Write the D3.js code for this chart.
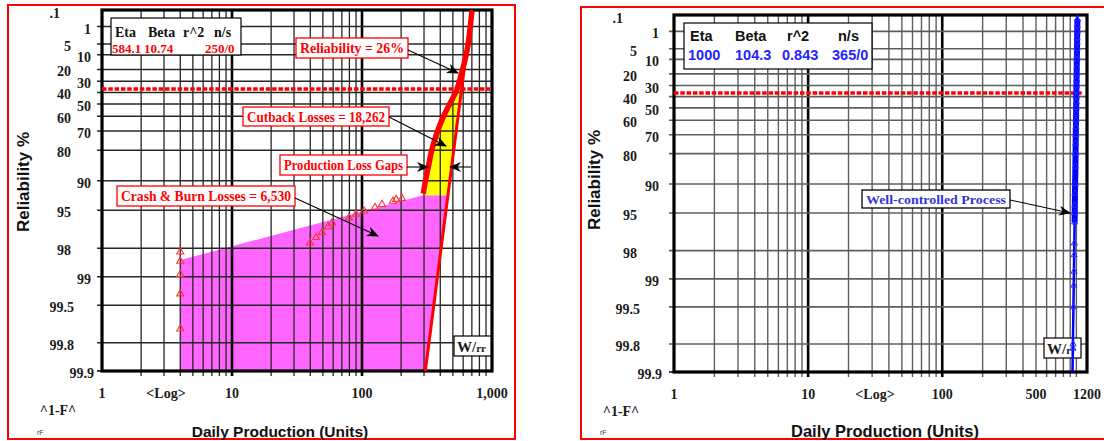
<!DOCTYPE html>
<html><head><meta charset="utf-8">
<script src="https://cdn.jsdelivr.net/npm/d3@7"></script>
<style>body{margin:0;background:#fff}svg{display:block}</style>
</head><body><svg id="c" width="1104" height="441"></svg>
<script>
// ---------------- DATA ----------------
const yTickValues = [0.1, 1, 5, 10, 20, 30, 40, 50, 60, 70, 80, 90, 95, 98, 99, 99.5, 99.8, 99.9];
const yTickLabels = [".1", "1", "5", "10", "20", "30", "40", "50", "60", "70", "80", "90", "95", "98", "99", "99.5", "99.8", "99.9"];
const leftXTickValues = [1, 10, 100, 1000];
const leftXTickLabels = ["1", "10", "100", "1,000"];
const rightXTickValues = [1, 10, 100, 500, 1200];
const rightXTickLabels = ["1", "10", "100", "500", "1200"];
const legendHeaders = ["Eta", "Beta", "r^2", "n/s"];
const leftLegendValues = ["584.1", "10.74", "", "250/0"];
const rightLegendValues = ["1000", "104.3", "0.843", "365/0"];
const etaReliability = 36.79; // reliability at x = eta (dashed line)

// Left chart: [daily production, reliability %]
const leftFitLine = [[307, 99.9], [699, 0.1]];
const leftProductionCurve = [[296, 92.6], [305, 90.6], [324, 86.2], [344, 80.0], [376, 71.4], [422, 60.3],
  [475, 49.6], [535, 37.8], [578, 24.5], [620, 13.1], [657, 4.7], [698, 0.17], [702, 0.12]];
const leftCrashBurnPoints = [[4, 98.17], [4, 98.54], [4, 98.94], [4, 99.34], [4, 99.72],
  [39.8, 97.72], [44.3, 97.40], [49.2, 97.07], [54.7, 96.65], [58.8, 96.31], [79.4, 95.84],
  [89.9, 95.45], [103.6, 95.08], [125.9, 94.66], [142.5, 94.26], [173, 93.80], [183, 93.55], [203, 93.39]];
const leftCrashBurnArea = [[4, 99.9], [4, 98.5], [294, 92.85], [458, 92.85], [307, 99.9]];
const leftCutbackArea = [[296, 92.85], [305, 90.6], [324, 86.2], [344, 80.0], [376, 71.4], [422, 60.3],
  [475, 49.6], [535, 37.8], [583, 37.8], [458, 92.85]];

// Right chart
const rightFitLine = [[936, 99.9], [1019, 0.1]];
const rightDataPoints = [[1018, 0.2], [1016, 0.5], [1015, 1], [1013, 2], [1012, 3], [1011, 5], [1009, 8],
  [1008, 10], [1006, 15], [1005, 20], [1003, 25], [1002, 30], [1000, 35], [999, 40], [998, 45], [996, 50],
  [995, 55], [994, 60], [992, 65], [990, 70], [988, 75], [986, 80], [983, 85], [979, 90], [976, 92],
  [974, 94], [972, 95], [970, 96], [966, 97.6], [963, 98.2], [960, 98.8], [957, 99.15], [952, 99.5],
  [944, 99.8], [943, 99.82]];

// ---------------- DRAWING ----------------
const svg = d3.select("#c");
const SERIF = "'Liberation Serif','Times New Roman',serif";
const SANS = "'Liberation Sans',Arial,sans-serif";

const defs = svg.append("defs");
defs.append("marker").attr("id", "ah").attr("viewBox", "0 0 12 10").attr("refX", 11).attr("refY", 5)
  .attr("markerWidth", 12).attr("markerHeight", 10).attr("markerUnits", "userSpaceOnUse").attr("orient", "auto")
  .append("path").attr("d", "M0,0 L12,5 L0,10 L3.5,5 Z").attr("fill", "#000");

function panel(cfg) {
  const g = svg.append("g");
  g.append("rect").attr("x", cfg.frame[0]).attr("y", cfg.frame[1]).attr("width", cfg.frame[2]).attr("height", cfg.frame[3])
    .attr("fill", "#fff").attr("stroke", "#f00").attr("stroke-width", 2);

  const x = d3.scaleLog().domain(cfg.xDomain).range([cfg.left, cfg.right]);
  const T = R => Math.log(-Math.log(R / 100));
  const yl = d3.scaleLinear().domain([T(0.1), T(99.9)]).range([cfg.top, cfg.bottom]);
  const y = R => yl(T(R));
  const P = d => [x(d[0]), y(d[1])];

  const under = g.append("g");
  const grid = g.append("g");
  const over = g.append("g");

  const vx = [];
  for (let k = 0; k < 4; k++) for (let m = 1; m < 10; m++) {
    const v = m * Math.pow(10, k);
    if (v > cfg.xDomain[0] && v < cfg.xDomain[1]) vx.push(v);
  }
  grid.selectAll(".vg").data(vx).join("line")
    .attr("x1", d => x(d)).attr("x2", d => x(d)).attr("y1", cfg.top).attr("y2", cfg.bottom + 5)
    .attr("stroke", d => (d === 10 || d === 100) ? "#000" : cfg.gridColor)
    .attr("stroke-width", d => (d === 10 || d === 100) ? 2.6 : cfg.gridWidth);
  grid.selectAll(".hg").data(yTickValues.slice(1, -1)).join("line")
    .attr("x1", cfg.left - 5).attr("x2", cfg.right).attr("y1", d => y(d)).attr("y2", d => y(d))
    .attr("stroke", cfg.gridColor).attr("stroke-width", cfg.gridWidth + 0.2);
  grid.append("line").attr("x1", cfg.left - 5).attr("x2", cfg.left).attr("y1", cfg.bottom).attr("y2", cfg.bottom)
    .attr("stroke", "#000").attr("stroke-width", 1.5);
  grid.append("rect").attr("x", cfg.left).attr("y", cfg.top).attr("width", cfg.right - cfg.left).attr("height", cfg.bottom - cfg.top)
    .attr("fill", "none").attr("stroke", "#000").attr("stroke-width", 3.2);

  const colA = new Set(["5", "20", "40", "60", "80", "95", "98"]);
  const colW = new Set(["99.5", "99.8"]);
  g.selectAll(".yl").data(yTickValues).join("text")
    .attr("x", (d, i) => {
      const l = yTickLabels[i];
      if (l === ".1") return cfg.left + cfg.yColDot;
      if (l === "99.9") return cfg.left + cfg.yColB + 3;
      if (colW.has(l)) return cfg.left + cfg.yColA + 3;
      return cfg.left + (colA.has(l) ? cfg.yColA : cfg.yColB);
    })
    .attr("y", (d, i) => yTickLabels[i] === ".1" ? cfg.top + 8 : y(d) + 7)
    .attr("text-anchor", "end").attr("font-family", SERIF).attr("font-weight", "bold").attr("font-size", 14)
    .attr("fill", "#1a1a1a").text((d, i) => yTickLabels[i]);

  g.selectAll(".xl").data(cfg.xTicks).join("text")
    .attr("x", d => x(d)).attr("y", cfg.bottom + 27).attr("text-anchor", "middle")
    .attr("font-family", SERIF).attr("font-weight", "bold").attr("font-size", 14).attr("fill", "#1a1a1a")
    .text((d, i) => cfg.xTickLabels[i]);
  g.append("text").attr("x", cfg.logX).attr("y", cfg.bottom + 27).attr("text-anchor", "middle")
    .attr("font-family", SERIF).attr("font-weight", "bold").attr("font-size", 14).attr("fill", "#1a1a1a").text("<Log>");
  g.append("text").attr("x", cfg.fX).attr("y", cfg.bottom + 44).attr("text-anchor", "middle")
    .attr("font-family", SERIF).attr("font-weight", "bold").attr("font-size", 14).attr("fill", "#1a1a1a").text("^1-F^");
  g.append("text").attr("x", cfg.fX - 21).attr("y", 435).attr("font-family", SANS).attr("font-size", 7)
    .attr("fill", "#333").text("rF");

  g.append("text").attr("x", cfg.xTitleX).attr("y", 437).attr("text-anchor", "middle")
    .attr("font-family", SANS).attr("font-weight", "bold").attr("font-size", cfg.xTitleSize).attr("fill", "#111")
    .text("Daily Production (Units)");
  g.append("text").attr("transform", `translate(${cfg.yTitleX},${cfg.yTitleY}) rotate(-90)`).attr("text-anchor", "middle")
    .attr("font-family", SANS).attr("font-weight", "bold").attr("font-size", 17).attr("fill", "#111")
    .text("Reliability %");

  const lg = over.append("g");
  lg.append("rect").attr("x", cfg.legend.box[0]).attr("y", cfg.legend.box[1]).attr("width", cfg.legend.box[2]).attr("height", cfg.legend.box[3])
    .attr("fill", "#fff").attr("stroke", "#000").attr("stroke-width", 1.2);
  lg.selectAll(".lh").data(legendHeaders).join("text")
    .attr("x", (d, i) => cfg.legend.hx[i]).attr("y", cfg.legend.hy)
    .attr("font-family", cfg.legend.font).attr("font-weight", "bold").attr("font-size", cfg.legend.size)
    .attr("fill", "#111").text(d => d);
  lg.selectAll(".lv").data(cfg.legend.values).join("text")
    .attr("x", (d, i) => cfg.legend.vx[i]).attr("y", cfg.legend.vy)
    .attr("font-family", cfg.legend.font).attr("font-weight", "bold").attr("font-size", cfg.legend.vsize)
    .attr("fill", cfg.legend.color).text(d => d);

  return {g, under, grid, over, x, y, P};
}

function box(g, bx, by, bw, bh, text, color, border, size) {
  g.append("rect").attr("x", bx).attr("y", by).attr("width", bw).attr("height", bh)
    .attr("fill", "#fff").attr("stroke", border).attr("stroke-width", 1.3);
  g.append("text").attr("x", bx + bw / 2).attr("y", by + bh / 2 + 5).attr("text-anchor", "middle")
    .attr("font-family", SERIF).attr("font-weight", "bold").attr("font-size", size || 14).attr("fill", color)
    .attr("textLength", bw - 8).attr("lengthAdjust", "spacingAndGlyphs").text(text);
}
function arrow(g, x1, y1, x2, y2) {
  g.append("line").attr("x1", x1).attr("y1", y1).attr("x2", x2).attr("y2", y2)
    .attr("stroke", "#000").attr("stroke-width", 1.1).attr("marker-end", "url(#ah)");
}
function wrr(g, bx, by) {
  g.append("rect").attr("x", bx).attr("y", by).attr("width", 37).attr("height", 20)
    .attr("fill", "#fff").attr("stroke", "#000").attr("stroke-width", 1.2);
  const t = g.append("text").attr("x", bx + 3).attr("y", by + 16).attr("font-family", SERIF).attr("font-weight", "bold")
    .attr("font-size", 15).attr("fill", "#1a1a1a");
  t.append("tspan").text("W/");
  t.append("tspan").attr("font-size", 11).text("rr");
}

// ---------- Left chart ----------
const L = panel({
  frame: [8, 5, 507, 434], left: 102, right: 492, top: 10, bottom: 371, xDomain: [1, 1000],
  xTicks: leftXTickValues, xTickLabels: leftXTickLabels, gridColor: "#262626", gridWidth: 1.3,
  yColA: -31, yColB: -11, yColDot: -42, logX: 166, fX: 58, xTitleX: 280, xTitleSize: 15.5, yTitleX: 29, yTitleY: 182,
  legend: {box: [111, 18, 130, 37], hx: [115, 148, 183, 214], hy: 37, vx: [112, 144, 183, 205], vy: 53,
    values: leftLegendValues, color: "#f00", font: SERIF, size: 14, vsize: 13}
});
{
  const {under, over, x, y, P} = L;
  under.append("path").attr("d", d3.line()(leftCrashBurnArea.map(P)) + "Z").attr("fill", "#ff66ff");
  under.append("path").attr("d", d3.line()(leftCutbackArea.map(P)) + "Z").attr("fill", "#ffff00");
  const o = over.insert("g", ":first-child");
  o.append("line").attr("x1", x(1)).attr("x2", x(1000) - 2).attr("y1", y(etaReliability)).attr("y2", y(etaReliability))
    .attr("stroke", "#f00").attr("stroke-width", 3.5).attr("stroke-dasharray", "4.5,1.8");
  o.append("path").attr("d", d3.line()(leftFitLine.map(P))).attr("fill", "none").attr("stroke", "#f00").attr("stroke-width", 3);
  o.append("path").attr("d", d3.line().curve(d3.curveCatmullRom)(leftProductionCurve.map(P)))
    .attr("fill", "none").attr("stroke", "#f00").attr("stroke-width", 5.5).attr("stroke-linejoin", "round");
  o.selectAll(".cb").data(leftCrashBurnPoints).join("path")
    .attr("transform", d => `translate(${P(d)})`).attr("d", d3.symbol(d3.symbolTriangle, 22))
    .attr("fill", "none").attr("stroke", "#f33").attr("stroke-width", 1.1);

  const a = over.append("g");
  box(a, 296, 38, 112, 20, "Reliability = 26%", "#f00", "#f00");
  arrow(a, 408, 50, x(578) - 3, y(24.5) - 2);
  box(a, 243, 107, 146, 19, "Cutback Losses = 18,262", "#f00", "#f00");
  arrow(a, 389, 117, 446, 146);
  box(a, 280, 155, 127, 20, "Production Loss Gaps", "#f00", "#f00");
  arrow(a, 407, 167, 428, 167);
  arrow(a, 471, 167, 450, 167);
  box(a, 117, 186, 178, 20, "Crash & Burn Losses = 6,530", "#f00", "#f00");
  arrow(a, 295, 198, 378, 236);
  wrr(a, 454, 336);
}

// ---------- Right chart ----------
const R = panel({
  frame: [581, 7, 560, 432], left: 674, right: 1087, top: 15, bottom: 372, xDomain: [1, 1200],
  xTicks: rightXTickValues, xTickLabels: rightXTickLabels, gridColor: "#5e5e5e", gridWidth: 1.4,
  yColA: -37, yColB: -15, yColDot: -51, logX: 875, fX: 621, xTitleX: 885, xTitleSize: 16.5, yTitleX: 600, yTitleY: 180,
  legend: {box: [684, 23, 188, 46], hx: [690, 735, 787, 838], hy: 41, vx: [688, 735, 782, 832], vy: 60,
    values: rightLegendValues, color: "#2323ff", font: SANS, size: 14.5, vsize: 14.5}
});
{
  const {over, x, y, P} = R;
  const o = over.insert("g", ":first-child");
  o.append("line").attr("x1", x(1)).attr("x2", x(1200) - 4).attr("y1", y(etaReliability)).attr("y2", y(etaReliability))
    .attr("stroke", "#f00").attr("stroke-width", 3.5).attr("stroke-dasharray", "4.5,1.8");
  const a = over.append("g");
  box(a, 862, 190, 148, 18, "Well-controlled Process", "#3434d8", "#000", 13.5);
  arrow(a, 1010, 200, 1070, 213);
  wrr(a, 1044, 338);
  a.append("path").attr("d", d3.line()(rightFitLine.map(P))).attr("fill", "none").attr("stroke", "#0000ff").attr("stroke-width", 2.5);
  a.append("path").attr("d", d3.line()(rightDataPoints.filter(d => d[1] <= 96).map(P)))
    .attr("fill", "none").attr("stroke", "#0000ff").attr("stroke-width", 6);
  a.selectAll(".bp").data(rightDataPoints).join("path")
    .attr("transform", d => `translate(${P(d)})`).attr("d", d3.symbol(d3.symbolTriangle, 16))
    .attr("fill", "none").attr("stroke", "#2a2aff").attr("stroke-width", 1);
}
</script></body></html>
